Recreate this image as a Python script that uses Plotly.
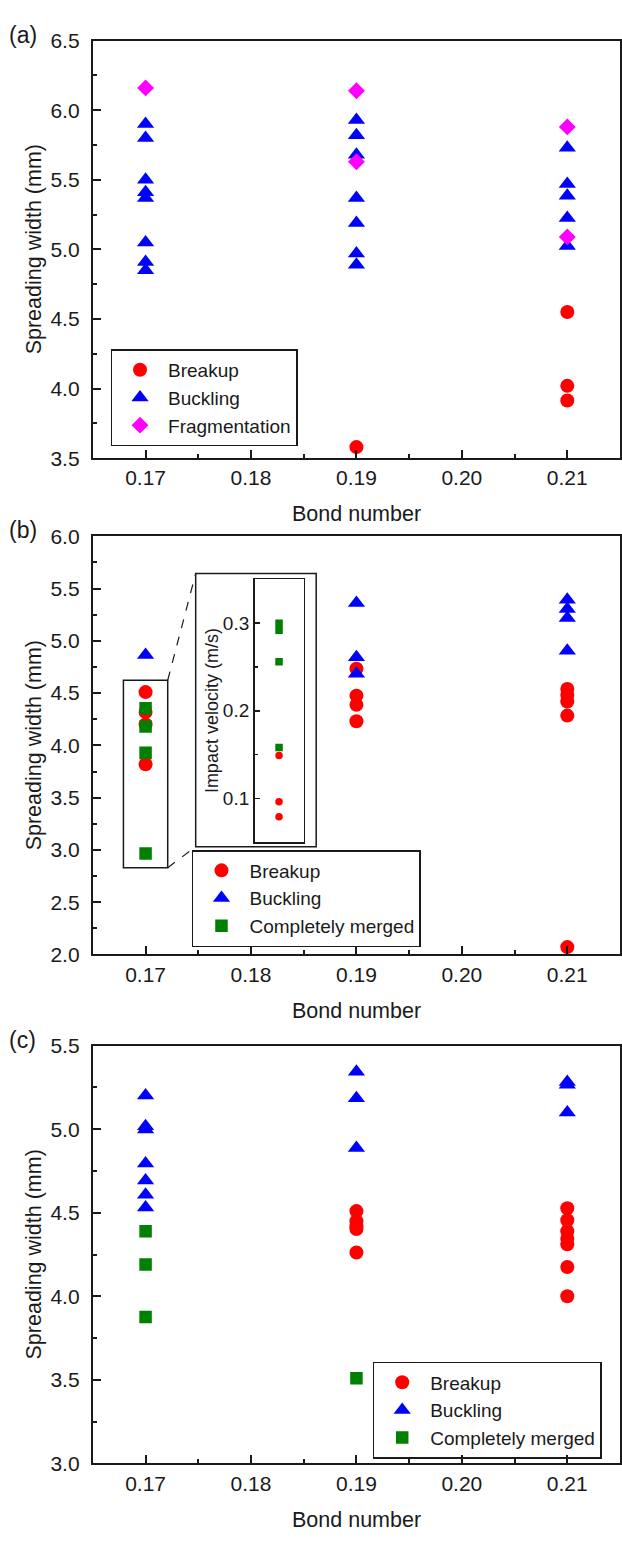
import plotly.graph_objects as go

W, H = 622, 1541

# ---------------- data ----------------
# Panel (a)
a_breakup_x = [0.19, 0.21, 0.21, 0.21]
a_breakup_y = [3.58, 4.55, 4.02, 3.915]
a_buckling_x = [0.17, 0.17, 0.17, 0.17, 0.17, 0.17, 0.17, 0.17,
                0.19, 0.19, 0.19, 0.19, 0.19, 0.19, 0.19,
                0.21, 0.21, 0.21, 0.21, 0.21]
a_buckling_y = [5.90, 5.80, 5.50, 5.41, 5.37, 5.05, 4.91, 4.85,
                5.93, 5.82, 5.68, 5.37, 5.19, 4.97, 4.89,
                5.73, 5.47, 5.385, 5.225, 5.025]
a_frag_x = [0.17, 0.19, 0.19, 0.21, 0.21]
a_frag_y = [6.16, 6.14, 5.63, 5.88, 5.09]

# Panel (b)
b_breakup_x = [0.17, 0.17, 0.17, 0.17, 0.19, 0.19, 0.19, 0.19,
               0.21, 0.21, 0.21, 0.21, 0.21]
b_breakup_y = [4.51, 4.32, 4.20, 3.82, 4.733, 4.476, 4.388, 4.231,
               4.539, 4.483, 4.42, 4.285, 2.07]
b_buckling_x = [0.17, 0.19, 0.19, 0.19, 0.21, 0.21, 0.21, 0.21]
b_buckling_y = [4.864, 5.362, 4.844, 4.686, 5.393, 5.305, 5.22, 4.906]
b_merged_x = [0.17, 0.17, 0.17, 0.17]
b_merged_y = [4.355, 4.18, 3.93, 2.965]

# Inset of panel (b): impact velocity of the Bond number 0.17 cases
inset_merged_x = [0.17, 0.17, 0.17, 0.17]
inset_merged_v = [0.300, 0.292, 0.256, 0.158]
inset_breakup_x = [0.17, 0.17, 0.17]
inset_breakup_v = [0.149, 0.096, 0.079]

# Panel (c)
c_breakup_x = [0.19, 0.19, 0.19, 0.19, 0.19,
               0.21, 0.21, 0.21, 0.21, 0.21, 0.21, 0.21]
c_breakup_y = [4.51, 4.449, 4.419, 4.402, 4.262,
               4.527, 4.455, 4.389, 4.344, 4.311, 4.175, 4.00]
c_buckling_x = [0.17, 0.17, 0.17, 0.17, 0.17, 0.17, 0.17,
                0.19, 0.19, 0.19, 0.21, 0.21, 0.21]
c_buckling_y = [5.201, 5.018, 4.998, 4.794, 4.693, 4.608, 4.531,
                5.344, 5.185, 4.887, 5.283, 5.266, 5.10]
c_merged_x = [0.17, 0.17, 0.17, 0.19]
c_merged_y = [4.389, 4.191, 3.876, 3.51]

# ---------------- styling ----------------
FONT = "Liberation Sans, Arial, sans-serif"
INK = "#1a1a1a"
RED, BLUE, MAG, GREEN = "#ff0000", "#0000ff", "#ff00ff", "#008000"
CIRCLE = dict(symbol="circle", size=14, color=RED)
TRI = dict(symbol="triangle-up", size=15, color=BLUE)
DIAM = dict(symbol="diamond", size=13, color=MAG)
SQ = dict(symbol="square", size=12.5, color=GREEN)


def fx(p):
    return p / W


def fy(p):
    return 1 - p / H


X_LEFT, X_RIGHT = 93, 621
PANELS = {  # top, bottom pixel rows of each plotting area
    "a": (29, 453),
    "b": (532.3, 956.7),
    "c": (1049.3, 1473.4),
}
INNER = dict(x0=255, x1=304, y0=576, y1=842.7)
OUTER = dict(x0=196, x1=316.7, y0=570, y1=847.3)

fig = go.Figure()


def add(x, y, name, marker, xa, ya, legend, show=True, line_w=0):
    fig.add_trace(go.Scatter(
        x=x, y=y, mode="markers", name=name,
        marker=dict(**marker, line=dict(width=line_w)),
        xaxis=xa, yaxis=ya, legend=legend, showlegend=show))


add(a_breakup_x, a_breakup_y, "Breakup", CIRCLE, "x", "y", "legend")
add(a_buckling_x, a_buckling_y, "Buckling", TRI, "x", "y", "legend")
add(a_frag_x, a_frag_y, "Fragmentation", DIAM, "x", "y", "legend")

add(b_breakup_x, b_breakup_y, "Breakup", CIRCLE, "x2", "y2", "legend2")
add(b_buckling_x, b_buckling_y, "Buckling", TRI, "x2", "y2", "legend2")
add(b_merged_x, b_merged_y, "Completely merged", SQ, "x2", "y2", "legend2")

add(c_breakup_x, c_breakup_y, "Breakup", CIRCLE, "x3", "y3", "legend3")
add(c_buckling_x, c_buckling_y, "Buckling", TRI, "x3", "y3", "legend3")
add(c_merged_x, c_merged_y, "Completely merged", SQ, "x3", "y3", "legend3")

add(inset_breakup_x, inset_breakup_v, "Breakup",
    dict(symbol="circle", size=7.5, color=RED), "x4", "y4", "legend", show=False)
add(inset_merged_x, inset_merged_v, "Completely merged",
    dict(symbol="square", size=7.5, color=GREEN), "x4", "y4", "legend", show=False)

tick_font = dict(family=FONT, size=21, color=INK)


def xaxis_cfg(top, bottom):
    return dict(
        domain=[fx(X_LEFT), fx(X_RIGHT)], range=[0.165, 0.215],
        tick0=0.17, dtick=0.01, tickformat=".2f",
        showline=True, linecolor=INK, linewidth=2, mirror=True,
        ticks="inside", ticklen=8, tickwidth=2, tickcolor=INK,
        minor=dict(ticks="inside", ticklen=4, tickwidth=2, tickcolor=INK, dtick=0.005),
        showgrid=False, zeroline=False, tickfont=tick_font, fixedrange=True,
    )


def yaxis_cfg(top, bottom, rng):
    return dict(
        domain=[fy(bottom), fy(top)], range=rng,
        tick0=0, dtick=0.5, tickformat=".1f",
        showline=True, linecolor=INK, linewidth=2, mirror=True,
        ticks="inside", ticklen=8, tickwidth=2, tickcolor=INK,
        minor=dict(ticks="inside", ticklen=4, tickwidth=2, tickcolor=INK, dtick=0.25),
        showgrid=False, zeroline=False, tickfont=tick_font, fixedrange=True,
        ticklabelstandoff=7,
    )


ta, ba = PANELS["a"]
tb, bb = PANELS["b"]
tc, bc = PANELS["c"]

layout = dict(
    width=W, height=H, margin=dict(l=0, r=0, t=0, b=0),
    paper_bgcolor="white", plot_bgcolor="white",
    font=dict(family=FONT, color=INK),
    xaxis=dict(**xaxis_cfg(ta, ba), anchor="y"),
    yaxis=dict(**yaxis_cfg(ta, ba, [3.5, 6.5]), anchor="x"),
    xaxis2=dict(**xaxis_cfg(tb, bb), anchor="y2"),
    yaxis2=dict(**yaxis_cfg(tb, bb, [2.0, 6.0]), anchor="x2"),
    xaxis3=dict(**xaxis_cfg(tc, bc), anchor="y3"),
    yaxis3=dict(**yaxis_cfg(tc, bc, [3.0, 5.5]), anchor="x3"),
    xaxis4=dict(domain=[fx(INNER["x0"]), fx(INNER["x1"])], range=[0.1675, 0.1725],
                anchor="y4", showline=True, linecolor=INK, linewidth=1.5, mirror=True,
                ticks="", showticklabels=False, showgrid=False, zeroline=False,
                fixedrange=True),
    yaxis4=dict(domain=[fy(INNER["y1"]), fy(INNER["y0"])], range=[0.05, 0.35],
                anchor="x4", tick0=0, dtick=0.1, tickformat=".1f",
                showline=True, linecolor=INK, linewidth=1.5, mirror=True,
                ticks="inside", ticklen=5, tickwidth=1.5, tickcolor=INK,
                minor=dict(ticks="inside", ticklen=3, tickwidth=1.5, tickcolor=INK, dtick=0.05),
                showgrid=False, zeroline=False,
                tickfont=dict(family=FONT, size=19, color=INK), fixedrange=True),
)

leg_common = dict(
    xanchor="left", yanchor="top", bgcolor="rgba(255,255,255,0)",
    bordercolor=INK, borderwidth=1.5, itemwidth=46,
    font=dict(family=FONT, size=19, color=INK), tracegroupgap=0,
)
layout["legend"] = dict(**leg_common, x=fx(110.7), y=fy(342.5))
layout["legend2"] = dict(**leg_common, x=fx(192.3), y=fy(850.7))
layout["legend3"] = dict(**leg_common, x=fx(373.3), y=fy(1370.3))

fig.update_layout(**layout)

# ---------------- annotations ----------------
title_font = dict(family=FONT, size=21.5, color=INK)
ann = []
for label, (top, bottom) in PANELS.items():
    ann.append(dict(text="Bond number", x=fx((X_LEFT + X_RIGHT) / 2), y=fy(bottom + 57),
                    xref="paper", yref="paper", showarrow=False, font=title_font,
                    xanchor="center", yanchor="middle"))
    ann.append(dict(text="Spreading width (mm)", x=fx(34), y=fy((top + bottom) / 2),
                    xref="paper", yref="paper", showarrow=False, font=title_font,
                    textangle=-90, xanchor="center", yanchor="middle"))
    ann.append(dict(text="(%s)" % label, x=fx(23), y=fy(top - 6),
                    xref="paper", yref="paper", showarrow=False,
                    font=dict(family=FONT, size=23, color=INK),
                    xanchor="center", yanchor="middle"))
ann.append(dict(text="Impact velocity (m/s)", x=fx(211.7),
                y=fy((INNER["y0"] + INNER["y1"]) / 2),
                xref="paper", yref="paper", showarrow=False,
                font=dict(family=FONT, size=18, color=INK),
                textangle=-90, xanchor="center", yanchor="middle"))
fig.update_layout(annotations=ann)

# ---------------- zoom box and inset frame ----------------
zoom_x = [0.1679, 0.1721]
zoom_y = [2.83, 4.623]


def data_to_px_b(xv, yv):
    x0, x1 = 0.165, 0.215
    y0, y1 = 2.0, 6.0
    px = X_LEFT + (xv - x0) / (x1 - x0) * (X_RIGHT - X_LEFT)
    py = bb - (yv - y0) / (y1 - y0) * (bb - tb)
    return px, py


zr_top = data_to_px_b(zoom_x[1], zoom_y[1])
zr_bot = data_to_px_b(zoom_x[1], zoom_y[0])

shapes = [
    dict(type="rect", xref="x2", yref="y2", x0=zoom_x[0], x1=zoom_x[1],
         y0=zoom_y[0], y1=zoom_y[1], line=dict(color=INK, width=1.5)),
    dict(type="rect", xref="paper", yref="paper", x0=fx(OUTER["x0"]), x1=fx(OUTER["x1"]),
         y0=fy(OUTER["y1"]), y1=fy(OUTER["y0"]), line=dict(color=INK, width=1.5)),
    dict(type="line", xref="paper", yref="paper", x0=fx(zr_top[0]), y0=fy(zr_top[1]),
         x1=fx(OUTER["x0"]), y1=fy(OUTER["y0"]), line=dict(color=INK, width=1.2, dash="dash")),
    dict(type="line", xref="paper", yref="paper", x0=fx(zr_bot[0]), y0=fy(zr_bot[1]),
         x1=fx(OUTER["x0"]), y1=fy(OUTER["y1"]), line=dict(color=INK, width=1.2, dash="dash")),
]
fig.update_layout(shapes=shapes)

fig.write_html(
    "out.html",
    config={"displayModeBar": False, "staticPlot": True},
    post_script="document.body.style.margin='0';document.body.style.padding='0';",
)
